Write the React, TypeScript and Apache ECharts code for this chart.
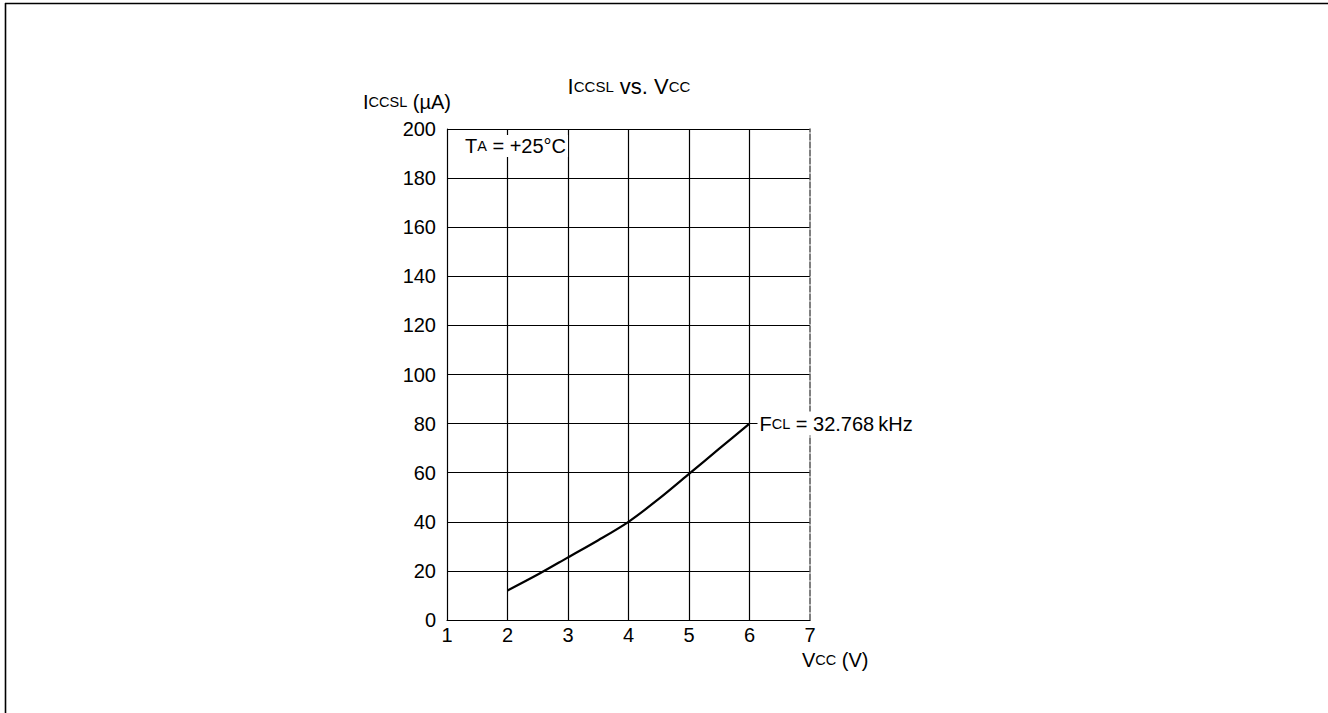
import React, { useEffect, useRef } from "react";
import * as echarts from "echarts";

const vccValues = [2, 2.5, 3, 3.5, 4, 4.5, 5, 5.5, 6];
const iccslValues = [12, 18.5, 25.5, 32.5, 40, 49.3, 59.5, 69.8, 80];
const xTicks = [1, 2, 3, 4, 5, 6, 7];
const yTicks = [0, 20, 40, 60, 80, 100, 120, 140, 160, 180, 200];

const FONT = "'Liberation Sans', Arial, sans-serif";

export default function App() {
  const ref = useRef<HTMLDivElement>(null);
  useEffect(() => {
    const chart = echarts.init(ref.current!, null, { renderer: "svg" });
    const big = { fontSize: 20, fontFamily: FONT, color: "#000", fontWeight: "normal" };
    const small = { fontSize: 14.5, fontFamily: FONT, color: "#000", fontWeight: "normal" };
    const tbig = { fontSize: 22, fontFamily: FONT, color: "#000", fontWeight: "normal" };
    const tsmall = { fontSize: 15, fontFamily: FONT, color: "#000", fontWeight: "normal" };
    chart.setOption({
      animation: false,
      backgroundColor: "#fff",
      grid: { left: 447, right: 518, top: 129, bottom: 93 },
      xAxis: {
        type: "value",
        min: xTicks[0],
        max: xTicks[xTicks.length - 1],
        interval: 1,
        axisLine: { show: true, lineStyle: { color: "#000", width: 1.2 } },
        axisTick: { show: false },
        axisLabel: { color: "#000", fontSize: 20, fontFamily: FONT, margin: 5 },
        splitLine: { show: true, showMinLine: false, showMaxLine: false, lineStyle: { color: "#000", width: 1.2 } },
      },
      yAxis: [
        {
          type: "value",
          min: yTicks[0],
          max: yTicks[yTicks.length - 1],
          interval: 20,
          axisLine: { show: true, lineStyle: { color: "#000", width: 1.2 } },
          axisTick: { show: false },
          axisLabel: { color: "#000", fontSize: 20, fontFamily: FONT, margin: 11 },
          splitLine: { show: true, lineStyle: { color: "#000", width: 1.2 } },
        },
        {
          type: "value",
          position: "right",
          min: 0,
          max: 200,
          interval: 20,
          axisLine: { show: true, lineStyle: { color: "#555", width: 1.5, type: [6, 2] } },
          axisTick: { show: false },
          axisLabel: { show: false },
          splitLine: { show: false },
        },
      ],
      series: [
        {
          type: "line",
          name: "FCL = 32.768 kHz",
          data: vccValues.map((v, i) => [v, iccslValues[i]]),
          smooth: 0.3,
          showSymbol: false,
          z: 5,
          lineStyle: { color: "#000", width: 2.2 },
          endLabel: {
            show: true,
            distance: 8,
            formatter: "{a|F}{b|CL}{a| = 32.768\u2009kHz}",
            backgroundColor: "#fff",
            padding: [2, 2, 2, 2],
            rich: { a: big, b: small },
          },
        },
      ],
      graphic: [
        {
          type: "text",
          x: 629,
          y: 86,
          style: {
            text: "{a|I}{b|CCSL}{a| vs. V}{b|CC}",
            align: "center",
            verticalAlign: "middle",
            rich: { a: tbig, b: tsmall },
          },
        },
        {
          type: "text",
          left: 363,
          top: 92,
          style: {
            text: "{a|I}{b|CCSL}{a| (µA)}",
            rich: { a: big, b: small },
          },
        },
        {
          type: "text",
          left: 465,
          top: 135,
          z: 10,
          style: {
            text: "{a|T}{b|A}{a| = +25°C}",
            backgroundColor: "#fff",
            padding: [1, 2, 1, 0],
            rich: { a: big, b: small },
          },
        },
        {
          type: "text",
          left: 802,
          top: 650,
          style: {
            text: "{a|V}{b|CC}{a| (V)}",
            rich: { a: big, b: small },
          },
        },
        {
          type: "line",
          shape: { x1: 5, y1: 3.5, x2: 1328, y2: 3.5 },
          style: { stroke: "#000", lineWidth: 1.6 },
        },
        {
          type: "line",
          shape: { x1: 5.5, y1: 3, x2: 5.5, y2: 713 },
          style: { stroke: "#000", lineWidth: 1.6 },
        },
      ],
    });
    return () => chart.dispose();
  }, []);
  return (
    <div
      ref={ref}
      style={{ position: "fixed", left: 0, top: 0, width: 1328, height: 713, background: "#fff" }}
    />
  );
}
